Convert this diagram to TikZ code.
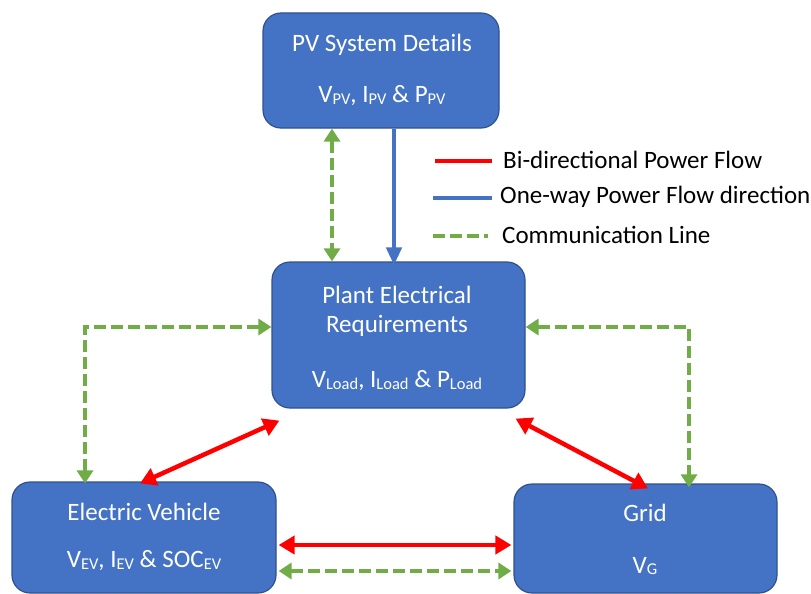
\documentclass[tikz,border=0pt]{standalone}
\usepackage{fontspec}
\setmainfont{Carlito}
\usetikzlibrary{arrows.meta}
\definecolor{boxblue}{HTML}{4472C4}
\definecolor{boxedge}{HTML}{2F528F}
\definecolor{commgreen}{HTML}{70AD47}
\newcommand\sbs[1]{\raisebox{-1.5pt}{\fontsize{16.5}{16.5}\selectfont #1}}
\tikzset{
  blockbox/.style={draw=boxedge, line width=1.2pt, fill=boxblue, rounded corners=18pt, inner sep=0pt},
  boxtext/.style={text=white, font=\fontsize{25}{28}\selectfont, inner sep=0pt, anchor=center},
  legtext/.style={text=black, font=\fontsize{25}{28}\selectfont, inner sep=0pt, anchor=west},
  power/.style={draw=red, line width=4.5pt, {Triangle[length=16pt,width=18pt]}-{Triangle[length=16pt,width=18pt]}},
  oneway/.style={draw=boxblue, line width=4.5pt, -{Triangle[length=18pt,width=15pt]}},
  comm/.style={draw=commgreen, line width=4.5pt, dash pattern=on 12pt off 5pt, {Triangle[length=13pt,width=16pt]}-{Triangle[length=13pt,width=16pt]}},
}
\begin{document}
\begin{tikzpicture}[x=1pt,y=-1pt]
\useasboundingbox (0,0) rectangle (811,594);
% boxes
\node[blockbox, minimum width=236pt, minimum height=115pt] (pv) at (381,70.5) {};
\node[blockbox, minimum width=253pt, minimum height=146pt] (plant) at (398.5,335) {};
\node[blockbox, minimum width=264pt, minimum height=111pt] (ev) at (144,537.5) {};
\node[blockbox, minimum width=263pt, minimum height=109pt] (grid) at (645.5,538.5) {};
% box texts
\node[boxtext] (pvt1) at (382,45) {PV System Details};
\node[boxtext] (pvt2) at (382,96) {V\sbs{PV}, I\sbs{PV} \& P\sbs{PV}};
\node[boxtext] (plt1) at (397,295) {Plant Electrical};
\node[boxtext] (plt2) at (397,326) {Requirements};
\node[boxtext] (plt3) at (397,381) {V\sbs{Load}, I\sbs{Load} \& P\sbs{Load}};
\node[boxtext] (evt1) at (144,512) {Electric Vehicle};
\node[boxtext] (evt2) at (144,561) {V\sbs{EV}, I\sbs{EV} \& SOC\sbs{EV}};
\node[boxtext] (grt1) at (645,513) {Grid};
\node[boxtext] (grt2) at (645,566) {V\sbs{G}};
% connectors
\draw[comm] (pv.south -| 332,0) -- (plant.north -| 332,0);
\draw[oneway] (pv.south -| 394,0) -- ([yshift=-4pt]plant.north -| 394,0);
\draw[comm] ([yshift=-2pt]ev.north -| 85,0) |- (plant.west |- 0,327);
\draw[comm] (plant.east |- 0,327) -| ([yshift=-4pt]grid.north -| 689,0);
\draw[power] ([xshift=8pt,yshift=-12pt]plant.south west) -- ([yshift=-2pt]ev.north -| 140,0);
\draw[power] ([xshift=-10pt,yshift=-10pt]plant.south east) -- ([yshift=-5pt]grid.north -| 648,0);
\draw[power] ([xshift=2pt]ev.east |- 0,545) -- ([xshift=-2pt]grid.west |- 0,545);
\draw[comm] ([xshift=2pt]ev.east |- 0,571) -- ([xshift=-2pt]grid.west |- 0,571);
% legend
\coordinate (lr1) at (435,161); \coordinate (lr2) at (492,161);
\coordinate (lb1) at (433,198); \coordinate (lb2) at (492,198);
\coordinate (lg1) at (433,236); \coordinate (lg2) at (488,236);
\draw[red, line width=4.5pt] (lr1) -- (lr2);
\draw[boxblue, line width=4.5pt] (lb1) -- (lb2);
\draw[commgreen, line width=4.5pt, dash pattern=on 12pt off 5pt] (lg1) -- (lg2);
\node[legtext] (leg1) at (503,160) {Bi-directional Power Flow};
\node[legtext] (leg2) at (500,197) {One-way Power Flow direction};
\node[legtext] (leg3) at (502,235) {Communication Line};
\end{tikzpicture}
\end{document}
